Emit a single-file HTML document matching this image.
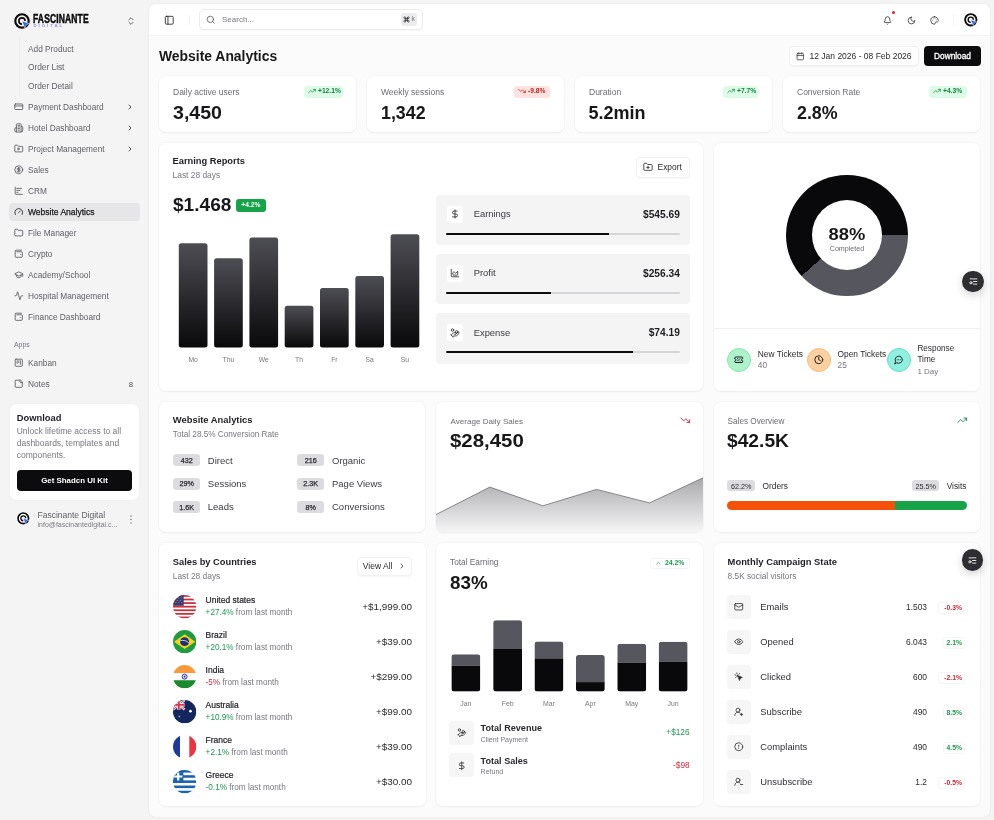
<!DOCTYPE html>
<html>
<head>
<meta charset="utf-8">
<title>Website Analytics</title>
<style>
*{box-sizing:border-box;margin:0;padding:0}
html,body{width:994px;height:820px;overflow:hidden}
body{background:#f4f4f5;font-family:"Liberation Sans",sans-serif;color:#1c1c1f;position:relative;font-size:8.5px;-webkit-font-smoothing:antialiased}
.abs,.abs *{position:absolute}
.t{position:absolute;white-space:nowrap;line-height:1;}
.m{color:#75757d}
.b{font-weight:bold}
svg{position:absolute;overflow:visible}
#panel{position:absolute;left:149px;top:4px;width:841px;height:813px;background:#fbfbfb;border-radius:7px;box-shadow:0 0 2px rgba(0,0,0,.10)}
#hdr{position:absolute;left:149px;top:4px;width:841px;height:32px;background:#fff;border-radius:7px 7px 0 0;border-bottom:1px solid #f3f3f5}
.card{position:absolute;background:#fff;border-radius:7px;box-shadow:0 0 0 1px rgba(0,0,0,.028),0 1px 2px rgba(0,0,0,.035)}
.si{position:absolute;left:28px;white-space:nowrap;line-height:1;font-size:8.3px;color:#5f5f66}
.ic{stroke:#55555c;fill:none;stroke-width:1.6;stroke-linecap:round;stroke-linejoin:round}
#sidebar,#main{will-change:transform}
</style>
</head>
<body>
<!-- SIDEBAR -->
<div id="sidebar">
<div style="position:absolute;left:9px;top:203px;width:131px;height:18px;background:#e6e6e9;border-radius:4px"></div>
<div style="position:absolute;left:18.500px;top:36px;width:1px;height:60px;background:#ececef"></div>
<div class="si" style="top:44.8px">Add Product</div>
<div class="si" style="top:63.3px">Order List</div>
<div class="si" style="top:82.3px">Order Detail</div>
<svg class="ic" style="left:13.700px;top:102.25px;stroke:#4d4d54;stroke-width:2" width="9.500" height="9.500" viewBox="0 0 24 24"><rect x="2" y="5" width="20" height="14" rx="2"/><path d="M2 10h20"/></svg>
<div class="si" style="top:102.8px;">Payment Dashboard</div>
<svg class="ic" style="left:126px;top:103.0px;stroke:#3f3f46;stroke-width:2.800" width="8" height="8" viewBox="0 0 24 24"><path d="m9 18 6-6-6-6"/></svg>
<svg class="ic" style="left:13.700px;top:123.25px;stroke:#4d4d54;stroke-width:2" width="9.500" height="9.500" viewBox="0 0 24 24"><path d="M6 22V4a2 2 0 0 1 2-2h8a2 2 0 0 1 2 2v18Z"/><path d="M6 12H4a2 2 0 0 0-2 2v6a2 2 0 0 0 2 2h2"/><path d="M18 9h2a2 2 0 0 1 2 2v9a2 2 0 0 1-2 2h-2"/><path d="M10 6h4M10 10h4M10 14h4M10 18h4"/></svg>
<div class="si" style="top:123.8px;">Hotel Dashboard</div>
<svg class="ic" style="left:126px;top:124.0px;stroke:#3f3f46;stroke-width:2.800" width="8" height="8" viewBox="0 0 24 24"><path d="m9 18 6-6-6-6"/></svg>
<svg class="ic" style="left:13.700px;top:144.25px;stroke:#4d4d54;stroke-width:2" width="9.500" height="9.500" viewBox="0 0 24 24"><path d="M20 20a2 2 0 0 0 2-2V8a2 2 0 0 0-2-2h-7.9a2 2 0 0 1-1.69-.9L9.6 3.9A2 2 0 0 0 7.93 3H4a2 2 0 0 0-2 2v13a2 2 0 0 0 2 2Z"/><path d="M10 10.5v5l4-2.5z"/></svg>
<div class="si" style="top:144.8px;">Project Management</div>
<svg class="ic" style="left:126px;top:145.0px;stroke:#3f3f46;stroke-width:2.800" width="8" height="8" viewBox="0 0 24 24"><path d="m9 18 6-6-6-6"/></svg>
<svg class="ic" style="left:13.700px;top:165.25px;stroke:#4d4d54;stroke-width:2" width="9.500" height="9.500" viewBox="0 0 24 24"><circle cx="12" cy="12" r="10"/><path d="M16 8h-6a2 2 0 1 0 0 4h4a2 2 0 1 1 0 4H8M12 18V6"/></svg>
<div class="si" style="top:165.8px;">Sales</div>
<svg class="ic" style="left:13.700px;top:186.25px;stroke:#4d4d54;stroke-width:2" width="9.500" height="9.500" viewBox="0 0 24 24"><path d="M3 3v16a2 2 0 0 0 2 2h16M7 11h8M7 16h3M7 6h12"/></svg>
<div class="si" style="top:186.8px;">CRM</div>
<svg class="ic" style="left:13.700px;top:207.25px;stroke:#1c1c1f;stroke-width:2" width="9.500" height="9.500" viewBox="0 0 24 24"><path d="m12 14 4-4M3.34 19a10 10 0 1 1 17.32 0"/></svg>
<div class="si" style="top:207.8px;color:#18181b;font-size:8.500px;-webkit-text-stroke:.25px #18181b">Website Analytics</div>
<svg class="ic" style="left:13.700px;top:228.25px;stroke:#4d4d54;stroke-width:2" width="9.500" height="9.500" viewBox="0 0 24 24"><path d="M20 20a2 2 0 0 0 2-2V8a2 2 0 0 0-2-2h-7.9a2 2 0 0 1-1.69-.9L9.6 3.9A2 2 0 0 0 7.93 3H4a2 2 0 0 0-2 2v13a2 2 0 0 0 2 2Z"/></svg>
<div class="si" style="top:228.8px;">File Manager</div>
<svg class="ic" style="left:13.700px;top:249.25px;stroke:#4d4d54;stroke-width:2" width="9.500" height="9.500" viewBox="0 0 24 24"><path d="M17 14h.01M7 7h12a2 2 0 0 1 2 2v10a2 2 0 0 1-2 2H5a2 2 0 0 1-2-2V5a2 2 0 0 1 2-2h14"/></svg>
<div class="si" style="top:249.8px;">Crypto</div>
<svg class="ic" style="left:13.700px;top:270.25px;stroke:#4d4d54;stroke-width:2" width="9.500" height="9.500" viewBox="0 0 24 24"><path d="M21.42 10.92a1 1 0 0 0-.02-1.84L12.83 5.18a2 2 0 0 0-1.66 0L2.6 9.08a1 1 0 0 0 0 1.83l8.57 3.91a2 2 0 0 0 1.66 0zM22 10v6M6 12.5V16a6 3 0 0 0 12 0v-3.500"/></svg>
<div class="si" style="top:270.8px;">Academy/School</div>
<svg class="ic" style="left:13.700px;top:291.25px;stroke:#4d4d54;stroke-width:2" width="9.500" height="9.500" viewBox="0 0 24 24"><path d="M22 12h-2.48a2 2 0 0 0-1.93 1.46l-2.350 8.36a.25.25 0 0 1-.48 0L9.240 2.180a.25.25 0 0 0-.48 0l-2.350 8.36A2 2 0 0 1 4.490 12H2"/></svg>
<div class="si" style="top:291.8px;">Hospital Management</div>
<svg class="ic" style="left:13.700px;top:312.25px;stroke:#4d4d54;stroke-width:2" width="9.500" height="9.500" viewBox="0 0 24 24"><path d="M17 14h.01M7 7h12a2 2 0 0 1 2 2v10a2 2 0 0 1-2 2H5a2 2 0 0 1-2-2V5a2 2 0 0 1 2-2h14"/></svg>
<div class="si" style="top:312.8px;">Finance Dashboard</div>
<svg class="ic" style="left:13.700px;top:358.25px;stroke:#4d4d54;stroke-width:2" width="9.500" height="9.500" viewBox="0 0 24 24"><rect x="3" y="3" width="18" height="18" rx="2"/><path d="M8 7v7M12 7v4M16 7v9"/></svg>
<div class="si" style="top:358.8px;">Kanban</div>
<svg class="ic" style="left:13.700px;top:379.25px;stroke:#4d4d54;stroke-width:2" width="9.500" height="9.500" viewBox="0 0 24 24"><path d="M16 3H5a2 2 0 0 0-2 2v14a2 2 0 0 0 2 2h14a2 2 0 0 0 2-2V8Z"/><path d="M15 3v4a2 2 0 0 0 2 2h4"/></svg>
<div class="si" style="top:379.8px;">Notes</div>
<div class="t m" style="left:14px;top:341.900px;font-size:6.900px">Apps</div>
<div class="t" style="left:128.800px;top:380.500px;font-size:7.800px;color:#4d4d54">8</div>
<svg style="left:14px;top:12.500px" width="16.500" height="16.500" viewBox="0 0 32 32"><circle cx="15.500" cy="15.500" r="13" fill="none" stroke="#0b0b0d" stroke-width="4.200"/><path d="M21.500 15.500a6 6 0 1 0-6 6" fill="none" stroke="#0b0b0d" stroke-width="3.200"/><path d="M15.500 15.500l14 5-6 2.500-2.500 6.500z" fill="#2b64f0" stroke="#fff" stroke-width=".9"/></svg>
<div class="t b" style="left:33px;top:12.500px;font-size:12.200px;color:#0b0b0d;transform:scaleX(.698);transform-origin:0 0;-webkit-text-stroke:.5px #0b0b0d;letter-spacing:.2px">FASCINANTE</div>
<div class="t b" style="left:33.500px;top:24.300px;font-size:4.300px;color:#8594f2;letter-spacing:1.950px">DIGITAL</div>
<svg class="ic" style="left:125.500px;top:15.500px;stroke:#4d4d54;stroke-width:2" width="10" height="10" viewBox="0 0 24 24"><path d="m7 15 5 5 5-5M7 9l5-5 5 5"/></svg>
<div style="position:absolute;left:10px;top:403.500px;width:129px;height:96px;background:#fff;border-radius:7px;box-shadow:0 0 2px rgba(0,0,0,.05)"></div>
<div class="t b" style="left:16.700px;top:412.900px;font-size:9.400px;color:#1f1f23">Download</div>
<div class="t m" style="left:16.700px;top:427.4px;font-size:8.500px;color:#77777f">Unlock lifetime access to all</div>
<div class="t m" style="left:16.700px;top:439.1px;font-size:8.500px;color:#77777f">dashboards, templates and</div>
<div class="t m" style="left:16.700px;top:450.8px;font-size:8.500px;color:#77777f">components.</div>
<div style="position:absolute;left:16.700px;top:470px;width:115.600px;height:20.600px;background:#0c0c0e;border-radius:4px"></div>
<div class="t b" style="left:16.700px;width:115.600px;text-align:center;top:476.900px;font-size:7.900px;color:#fff">Get Shadcn UI Kit</div>
<div style="position:absolute;left:16.200px;top:511.900px;width:13.600px;height:13.600px;border-radius:50%;background:#fff"></div>
<svg style="left:16.600px;top:512.200px" width="13" height="13" viewBox="0 0 32 32"><circle cx="15.500" cy="15.500" r="13" fill="none" stroke="#0b0b0d" stroke-width="4.200"/><path d="M21.500 15.500a6 6 0 1 0-6 6" fill="none" stroke="#0b0b0d" stroke-width="3.200"/><path d="M15.500 15.500l14 5-6 2.500-2.500 6.500z" fill="#2b64f0" stroke="#fff" stroke-width=".9"/></svg>
<div class="t" style="left:37.500px;top:510.500px;font-size:8.500px;color:#5f5f66">Fascinante Digital</div>
<div class="t m" style="left:37.500px;top:520.700px;font-size:7px;color:#7c7c84">info@fascinantedigital.c...</div>
<svg style="left:129.500px;top:514.500px" width="2" height="9" viewBox="0 0 2 9"><circle cx="1" cy="1" r=".7" fill="#666"/><circle cx="1" cy="4.500" r=".7" fill="#666"/><circle cx="1" cy="8" r=".7" fill="#666"/></svg>
<!--SBEND--></div>
<!-- MAIN -->
<div id="panel"></div>
<div id="hdr"></div>
<div id="main">
<svg class="ic" style="left:163.800px;top:14.700px;stroke:#2a2a2e;stroke-width:2" width="10.500" height="10.500" viewBox="0 0 24 24"><rect x="3" y="3" width="18" height="18" rx="2.500"/><path d="M9 3v18"/></svg>
<div style="position:absolute;left:189px;top:15px;width:1px;height:10px;background:#f1f1f3"></div>
<div style="position:absolute;left:199px;top:9.300px;width:223.500px;height:20.900px;background:#fff;border:1px solid #ebebee;border-radius:5px;box-shadow:0 1px 1px rgba(0,0,0,.03)"></div>
<svg class="ic" style="left:206px;top:15.300px;stroke:#55555c;stroke-width:2" width="9.500" height="9.500" viewBox="0 0 24 24"><circle cx="11" cy="11" r="8"/><path d="m21 21-4.300-4.300"/></svg>
<div class="t m" style="left:222px;top:16px;font-size:8px;color:#77777f">Search...</div>
<div style="position:absolute;left:401px;top:13.200px;width:16.300px;height:12.500px;background:#ececee;border-radius:3px"></div>
<svg class="ic" style="left:403.300px;top:16.200px;stroke:#3a3a40;stroke-width:3" width="7" height="7" viewBox="0 0 24 24"><path d="M15 6v12a3 3 0 1 0 3-3H6a3 3 0 1 0 3 3V6a3 3 0 1 0-3 3h12a3 3 0 1 0-3-3"/></svg><div class="t" style="left:411.600px;top:16.300px;font-size:6.800px;color:#77777f">k</div>
<svg class="ic" style="left:883px;top:15.500px;stroke:#2a2a2e;stroke-width:2" width="9" height="9" viewBox="0 0 24 24"><path d="M10.268 21a2 2 0 0 0 3.464 0M3.262 15.326A1 1 0 0 0 4 17h16a1 1 0 0 0 .74-1.673C19.410 13.956 18 12.499 18 8A6 6 0 0 0 6 8c0 4.499-1.411 5.956-2.738 7.326"/></svg>
<div style="position:absolute;left:892px;top:11px;width:3.400px;height:3.400px;border-radius:50%;background:#e11d2e"></div>
<svg class="ic" style="left:906.500px;top:15.500px;stroke:#2a2a2e;stroke-width:2" width="9" height="9" viewBox="0 0 24 24"><path d="M12 3a6 6 0 0 0 9 9 9 9 0 1 1-9-9Z"/></svg>
<svg class="ic" style="left:930px;top:15.500px;stroke:#2a2a2e;stroke-width:2" width="9" height="9" viewBox="0 0 24 24"><circle cx="13.500" cy="6.500" r="1.100" style="fill:#2a2a2e;stroke:none"/><circle cx="17.500" cy="10.500" r="1.100" style="fill:#2a2a2e;stroke:none"/><circle cx="8.500" cy="7.500" r="1.100" style="fill:#2a2a2e;stroke:none"/><circle cx="6.500" cy="12.500" r="1.100" style="fill:#2a2a2e;stroke:none"/><path d="M12 2a10 10 0 1 0 0 20c1.600 0 2.100-1.100 1.500-2.300-.8-1.700.3-3.300 2-3.300H18c2.400 0 4-1.900 4-4.400C22 6 17.500 2 12 2Z"/></svg>
<div style="position:absolute;left:953px;top:15px;width:1px;height:10px;background:#f3f3f5"></div>
<div style="position:absolute;left:963.500px;top:12px;width:16px;height:16px;border-radius:50%;background:#fbfbfc"></div>
<svg style="left:964.300px;top:13px" width="14" height="14" viewBox="0 0 32 32"><circle cx="15.500" cy="15.500" r="13" fill="none" stroke="#0b0b0d" stroke-width="4.200"/><path d="M21.500 15.500a6 6 0 1 0-6 6" fill="none" stroke="#0b0b0d" stroke-width="3.200"/><path d="M15.500 15.500l14 5-6 2.500-2.500 6.500z" fill="#2b64f0" stroke="#fff" stroke-width=".9"/></svg>
<div class="t b" style="left:159px;top:49.500px;font-size:13.900px;color:#18181b">Website Analytics</div>
<div style="position:absolute;left:789px;top:45.500px;width:129.500px;height:20.500px;background:#fff;border:1px solid #f0f0f2;border-radius:4px;box-shadow:0 1px 1px rgba(0,0,0,.03)"></div>
<svg class="ic" style="left:796px;top:51.500px;stroke:#2a2a2e;stroke-width:2" width="8.500" height="8.500" viewBox="0 0 24 24"><path d="M8 2v4M16 2v4M3 10h18"/><rect x="3" y="4" width="18" height="18" rx="2"/></svg>
<div class="t" style="left:809.500px;top:51.700px;font-size:8.500px;color:#2a2a2e">12 Jan 2026 - 08 Feb 2026</div>
<div style="position:absolute;left:924px;top:45.500px;width:57px;height:20.500px;background:#0c0c0e;border-radius:4px"></div>
<div class="t b" style="left:924px;width:57px;text-align:center;top:51.800px;font-size:8.300px;font-weight:normal;-webkit-text-stroke:.3px #fff;color:#fff">Download</div>
<div class="card" style="left:159px;top:76px;width:197px;height:56px"></div>
<div class="t m" style="left:173px;top:87.600px;font-size:8.500px;color:#6b6b73">Daily active users</div>
<div class="t b" style="left:172.600px;top:103.800px;font-size:18px;transform:scaleX(1.088);transform-origin:0 50%;color:#18181b">3,450</div>
<div style="position:absolute;left:304px;top:86px;width:38.5px;height:11.700px;background:#dcfce7;border-radius:3px"></div>
<svg class="ic" style="left:307.7px;top:87.400px;stroke:#15803d;stroke-width:2.200" width="8" height="8" viewBox="0 0 24 24"><path d="M16 7h6v6"/><path d="m22 7-8.500 8.500-5-5L2 17"/></svg>
<div class="t b" style="left:318px;top:88.400px;font-size:6.700px;color:#15803d">+12.1%</div>
<div class="card" style="left:367px;top:76px;width:197px;height:56px"></div>
<div class="t m" style="left:381px;top:87.600px;font-size:8.500px;color:#6b6b73">Weekly sessions</div>
<div class="t b" style="left:380.600px;top:103.800px;font-size:18px;transform:scaleX(.99);transform-origin:0 50%;color:#18181b">1,342</div>
<div style="position:absolute;left:514px;top:86px;width:36px;height:11.700px;background:#fee2e2;border-radius:3px"></div>
<svg class="ic" style="left:517.7px;top:87.400px;stroke:#b42318;stroke-width:2.200" width="8" height="8" viewBox="0 0 24 24"><path d="M16 17h6v-6"/><path d="m22 17-8.500-8.500-5 5L2 7"/></svg>
<div class="t b" style="left:528px;top:88.400px;font-size:6.700px;color:#b42318">-9.8%</div>
<div class="card" style="left:575px;top:76px;width:197px;height:56px"></div>
<div class="t m" style="left:589px;top:87.600px;font-size:8.500px;color:#6b6b73">Duration</div>
<div class="t b" style="left:588.600px;top:103.800px;font-size:18px;transform:scaleX(1);transform-origin:0 50%;color:#18181b">5.2min</div>
<div style="position:absolute;left:723px;top:86px;width:35px;height:11.700px;background:#dcfce7;border-radius:3px"></div>
<svg class="ic" style="left:726.7px;top:87.400px;stroke:#15803d;stroke-width:2.200" width="8" height="8" viewBox="0 0 24 24"><path d="M16 7h6v6"/><path d="m22 7-8.500 8.500-5-5L2 17"/></svg>
<div class="t b" style="left:737px;top:88.400px;font-size:6.700px;color:#15803d">+7.7%</div>
<div class="card" style="left:783px;top:76px;width:197px;height:56px"></div>
<div class="t m" style="left:797px;top:87.600px;font-size:8.500px;color:#6b6b73">Conversion Rate</div>
<div class="t b" style="left:796.600px;top:103.800px;font-size:18px;transform:scaleX(.99);transform-origin:0 50%;color:#18181b">2.8%</div>
<div style="position:absolute;left:929px;top:86px;width:37.5px;height:11.700px;background:#dcfce7;border-radius:3px"></div>
<svg class="ic" style="left:932.7px;top:87.400px;stroke:#15803d;stroke-width:2.200" width="8" height="8" viewBox="0 0 24 24"><path d="M16 7h6v6"/><path d="m22 7-8.500 8.500-5-5L2 17"/></svg>
<div class="t b" style="left:943px;top:88.400px;font-size:6.700px;color:#15803d">+4.3%</div>
<div class="card" style="left:159px;top:143px;width:544px;height:248px"></div>
<div class="t b" style="left:172.600px;top:157.300px;font-size:9.300px;color:#1f1f23">Earning Reports</div>
<div class="t m" style="left:172.600px;top:171.100px;font-size:8.400px;color:#77777f">Last 28 days</div>
<div class="t b" style="left:172.500px;top:196.300px;font-size:18px;transform:scaleX(1.06);transform-origin:0 50%;color:#18181b">$1.468</div>
<div style="position:absolute;left:235.800px;top:199.400px;width:30.100px;height:12.300px;background:#16a34a;border-radius:3px"></div>
<div class="t b" style="left:235.800px;width:30.100px;text-align:center;top:202.300px;font-size:6.700px;color:#fff">+4.2%</div>
<div class="t m" style="left:178.8px;width:28.700px;text-align:center;top:356.800px;font-size:6.800px;color:#77777f">Mo</div>
<div class="t m" style="left:214.1px;width:28.700px;text-align:center;top:356.800px;font-size:6.800px;color:#77777f">Thu</div>
<div class="t m" style="left:249.4px;width:28.700px;text-align:center;top:356.800px;font-size:6.800px;color:#77777f">We</div>
<div class="t m" style="left:284.7px;width:28.700px;text-align:center;top:356.800px;font-size:6.800px;color:#77777f">Th</div>
<div class="t m" style="left:320.0px;width:28.700px;text-align:center;top:356.800px;font-size:6.800px;color:#77777f">Fr</div>
<div class="t m" style="left:355.3px;width:28.700px;text-align:center;top:356.800px;font-size:6.800px;color:#77777f">Sa</div>
<div class="t m" style="left:390.6px;width:28.700px;text-align:center;top:356.800px;font-size:6.800px;color:#77777f">Su</div>
<div style="position:absolute;left:636px;top:157px;width:53.600px;height:20.700px;background:#fff;border:1px solid #f2f2f4;border-radius:4px;box-shadow:0 1px 1px rgba(0,0,0,.03)"></div>
<svg class="ic" style="left:642.800px;top:162.300px;stroke:#2a2a2e;stroke-width:2" width="10" height="10" viewBox="0 0 24 24"><path d="M12 10v6M9 13h6M20 20a2 2 0 0 0 2-2V8a2 2 0 0 0-2-2h-7.900a2 2 0 0 1-1.690-.9L9.600 3.900A2 2 0 0 0 7.930 3H4a2 2 0 0 0-2 2v13a2 2 0 0 0 2 2Z"/></svg>
<div class="t" style="left:657.600px;top:163.100px;font-size:8.400px;color:#2a2a2e">Export</div>
<div style="position:absolute;left:436.200px;top:195.1px;width:253.800px;height:50.300px;background:#f4f4f5;border-radius:4px"></div>
<div style="position:absolute;left:446.500px;top:206.1px;width:16.500px;height:16.500px;background:#fff;border-radius:3px"></div>
<svg class="ic" style="left:449.700px;top:209.3px;stroke:#2a2a2e;stroke-width:2" width="10" height="10" viewBox="0 0 24 24"><path d="M12 2v20M17 5H9.500a3.500 3.500 0 0 0 0 7h5a3.500 3.500 0 0 1 0 7H6"/></svg>
<div class="t" style="left:473.700px;top:209.2px;font-size:9.400px;color:#3a3a40">Earnings</div>
<div class="t b" style="right:314.20000000000005px;top:210.1px;font-size:10.200px;color:#1f1f23">$545.69</div>
<div style="position:absolute;left:445.900px;top:232.5px;width:233.800px;height:2.800px;background:#d6d6da;border-radius:2px"></div>
<div style="position:absolute;left:445.900px;top:232.5px;width:163.6px;height:2.800px;background:#0c0c0e;border-radius:2px 0 0 2px"></div>
<div style="position:absolute;left:436.200px;top:254px;width:253.800px;height:50.300px;background:#f4f4f5;border-radius:4px"></div>
<div style="position:absolute;left:446.500px;top:265px;width:16.500px;height:16.500px;background:#fff;border-radius:3px"></div>
<svg class="ic" style="left:449.700px;top:268.2px;stroke:#2a2a2e;stroke-width:2" width="10" height="10" viewBox="0 0 24 24"><path d="M3 3v16a2 2 0 0 0 2 2h16"/><path d="M7 11.200l2.500-2.500 4 4 5-5V16a1 1 0 0 1-1 1H8a1 1 0 0 1-1-1z"/></svg>
<div class="t" style="left:473.700px;top:268.1px;font-size:9.400px;color:#3a3a40">Profit</div>
<div class="t b" style="right:314.20000000000005px;top:269.0px;font-size:10.200px;color:#1f1f23">$256.34</div>
<div style="position:absolute;left:445.900px;top:291.7px;width:233.800px;height:2.800px;background:#d6d6da;border-radius:2px"></div>
<div style="position:absolute;left:445.900px;top:291.7px;width:105.1px;height:2.800px;background:#0c0c0e;border-radius:2px 0 0 2px"></div>
<div style="position:absolute;left:436.200px;top:313.4px;width:253.800px;height:50.300px;background:#f4f4f5;border-radius:4px"></div>
<div style="position:absolute;left:446.500px;top:324.4px;width:16.500px;height:16.500px;background:#fff;border-radius:3px"></div>
<svg class="ic" style="left:449.700px;top:327.6px;stroke:#2a2a2e;stroke-width:2" width="10" height="10" viewBox="0 0 24 24"><path d="M11 15h2a2 2 0 1 0 0-4h-3c-.6 0-1.100.2-1.400.6L3 17"/><path d="m7 21 1.600-1.400c.3-.4.8-.6 1.400-.6h4c1.100 0 2.100-.4 2.800-1.200l4.600-4.400a2 2 0 0 0-2.750-2.910l-4.200 3.900"/><path d="m2 16 6 6"/><circle cx="16" cy="9" r="2.900"/><circle cx="6" cy="5" r="3"/></svg>
<div class="t" style="left:473.700px;top:327.5px;font-size:9.400px;color:#3a3a40">Expense</div>
<div class="t b" style="right:314.20000000000005px;top:328.4px;font-size:10.200px;color:#1f1f23">$74.19</div>
<div style="position:absolute;left:445.900px;top:350.6px;width:233.800px;height:2.800px;background:#d6d6da;border-radius:2px"></div>
<div style="position:absolute;left:445.900px;top:350.6px;width:186.8px;height:2.800px;background:#0c0c0e;border-radius:2px 0 0 2px"></div>
<div class="card" style="left:713.500px;top:143px;width:266.500px;height:248px"></div>
<div style="position:absolute;left:786.3px;top:174.5px;width:121.4px;height:121.4px;border-radius:50%;background:conic-gradient(#09090b 0deg 90deg,#56565e 90deg 228.300deg,#09090b 228.300deg 360deg)"></div>
<div style="position:absolute;left:811.8px;top:200.0px;width:70.4px;height:70.4px;border-radius:50%;background:#fff"></div>
<div class="t b" style="left:807px;width:80px;text-align:center;top:226.300px;font-size:17px;transform:scaleX(1.08);color:#18181b">88%</div>
<div class="t m" style="left:807px;width:80px;text-align:center;top:246.300px;font-size:7.150px;color:#6b6b73">Completed</div>
<div style="position:absolute;left:713.500px;top:328px;width:266.500px;height:1px;background:#f0f0f2"></div>
<div style="position:absolute;left:726.8px;top:347.500px;width:24px;height:24px;border-radius:50%;background:#aef2c9;border:1px solid #86e6ae"></div>
<svg class="ic" style="left:734.05px;top:354.750px;stroke:#1f1f23;stroke-width:2.500" width="9.500" height="9.500" viewBox="0 0 24 24"><path d="M2 9a3 3 0 0 1 0 6v2a2 2 0 0 0 2 2h16a2 2 0 0 0 2-2v-2a3 3 0 0 1 0-6V7a2 2 0 0 0-2-2H4a2 2 0 0 0-2 2Z"/><path d="M9 9h.010M15 15h.010M15 9 9 15"/></svg>
<div style="position:absolute;left:807.2px;top:347.500px;width:24px;height:24px;border-radius:50%;background:#fdd0a0;border:1px solid #f9ba7b"></div>
<svg class="ic" style="left:814.45px;top:354.750px;stroke:#1f1f23;stroke-width:2.500" width="9.500" height="9.500" viewBox="0 0 24 24"><circle cx="12" cy="12" r="10"/><path d="M12 6v6l4 2"/></svg>
<div style="position:absolute;left:886.7px;top:347.500px;width:24px;height:24px;border-radius:50%;background:#8ff0df;border:1px solid #62e0cc"></div>
<svg class="ic" style="left:893.95px;top:354.750px;stroke:#1f1f23;stroke-width:2.500" width="9.500" height="9.500" viewBox="0 0 24 24"><path d="M7.900 20A9 9 0 1 0 4 16.100L2 22Z"/><path d="M8 12h.010M12 12h.010M16 12h.010"/></svg>
<div class="t" style="left:757.800px;top:349.500px;font-size:8.400px;color:#2a2a2e">New Tickets</div>
<div class="t m" style="left:757.800px;top:361.300px;font-size:8.400px;color:#77777f">40</div>
<div class="t" style="left:837.600px;top:349.500px;font-size:8.350px;color:#2a2a2e">Open Tickets</div>
<div class="t m" style="left:837.600px;top:361.300px;font-size:8.400px;color:#77777f">25</div>
<div class="t" style="left:917.400px;top:344.500px;font-size:8.200px;color:#2a2a2e">Response</div>
<div class="t" style="left:917.400px;top:355.900px;font-size:8.200px;color:#2a2a2e">Time</div>
<div class="t m" style="left:917.400px;top:367.600px;font-size:8px;color:#77777f">1 Day</div>
<div class="card" style="left:159px;top:401.500px;width:266px;height:130.500px"></div>
<div class="t b" style="left:172.800px;top:415.100px;font-size:9.400px;color:#1f1f23">Website Analytics</div>
<div class="t m" style="left:172.800px;top:430.500px;font-size:8.200px;color:#77777f">Total 28.5% Conversion Rate</div>
<div style="position:absolute;left:173px;top:454.4px;width:27.300px;height:12.100px;background:#dcdce0;border-radius:3px"></div>
<div class="t" style="left:173px;width:27.300px;text-align:center;top:457.1px;font-size:7.200px;-webkit-text-stroke:.25px #2a2a2e;color:#2a2a2e">432</div>
<div class="t" style="left:207.8px;top:455.6px;font-size:9.500px;color:#3a3a40">Direct</div>
<div style="position:absolute;left:297px;top:454.4px;width:27.300px;height:12.100px;background:#dcdce0;border-radius:3px"></div>
<div class="t" style="left:297px;width:27.300px;text-align:center;top:457.1px;font-size:7.200px;-webkit-text-stroke:.25px #2a2a2e;color:#2a2a2e">216</div>
<div class="t" style="left:332px;top:455.6px;font-size:9.500px;color:#3a3a40">Organic</div>
<div style="position:absolute;left:173px;top:477.7px;width:27.300px;height:12.100px;background:#dcdce0;border-radius:3px"></div>
<div class="t" style="left:173px;width:27.300px;text-align:center;top:480.4px;font-size:7.200px;-webkit-text-stroke:.25px #2a2a2e;color:#2a2a2e">29%</div>
<div class="t" style="left:207.8px;top:478.9px;font-size:9.500px;color:#3a3a40">Sessions</div>
<div style="position:absolute;left:297px;top:477.7px;width:27.300px;height:12.100px;background:#dcdce0;border-radius:3px"></div>
<div class="t" style="left:297px;width:27.300px;text-align:center;top:480.4px;font-size:7.200px;-webkit-text-stroke:.25px #2a2a2e;color:#2a2a2e">2.3K</div>
<div class="t" style="left:332px;top:478.9px;font-size:9.500px;color:#3a3a40">Page Views</div>
<div style="position:absolute;left:173px;top:501.0px;width:27.300px;height:12.100px;background:#dcdce0;border-radius:3px"></div>
<div class="t" style="left:173px;width:27.300px;text-align:center;top:503.7px;font-size:7.200px;-webkit-text-stroke:.25px #2a2a2e;color:#2a2a2e">1.6K</div>
<div class="t" style="left:207.8px;top:502.2px;font-size:9.500px;color:#3a3a40">Leads</div>
<div style="position:absolute;left:297px;top:501.0px;width:27.300px;height:12.100px;background:#dcdce0;border-radius:3px"></div>
<div class="t" style="left:297px;width:27.300px;text-align:center;top:503.7px;font-size:7.200px;-webkit-text-stroke:.25px #2a2a2e;color:#2a2a2e">8%</div>
<div class="t" style="left:332px;top:502.2px;font-size:9.500px;color:#3a3a40">Conversions</div>
<div class="card" style="left:436px;top:401.500px;width:267px;height:130.500px;overflow:hidden"><svg style="left:0;top:0" width="267" height="130.500" viewBox="436 401.500 267 130.500"><defs><linearGradient id="ag" x1="0" y1="0" x2="0" y2="1"><stop offset="0" stop-color="#a9a9ad"/><stop offset="1" stop-color="#f6f6f7"/></linearGradient></defs><path d="M436 514.100L489.800 486.600L542.900 505.300L596.500 488.900L649.600 502.400L703 477.300V532H436Z" fill="url(#ag)"/><path d="M436 514.100L489.800 486.600L542.900 505.300L596.500 488.900L649.600 502.400L703 477.300" fill="none" stroke="#6e6e74" stroke-width=".8"/></svg></div>
<div class="t m" style="left:450.400px;top:417.700px;font-size:8.100px;color:#6b6b73">Average Daily Sales</div>
<div class="t b" style="left:450.200px;top:432.200px;font-size:18px;transform:scaleX(1.134);transform-origin:0 50%;color:#18181b">$28,450</div>
<svg class="ic" style="left:679.500px;top:414.800px;stroke:#c0262d;stroke-width:2" width="10.500" height="10.500" viewBox="0 0 24 24"><path d="M16 17h6v-6"/><path d="m22 17-8.500-8.500-5 5L2 7"/></svg>
<div class="card" style="left:714px;top:401.500px;width:266px;height:130.500px"></div>
<div class="t m" style="left:727.600px;top:417.900px;font-size:8.200px;color:#6b6b73">Sales Overview</div>
<div class="t b" style="left:727.400px;top:432.200px;font-size:18px;transform:scaleX(1.067);transform-origin:0 50%;color:#18181b">$42.5K</div>
<svg class="ic" style="left:957.200px;top:414.800px;stroke:#15803d;stroke-width:2" width="10.500" height="10.500" viewBox="0 0 24 24"><path d="M16 7h6v6"/><path d="m22 7-8.500 8.500-5-5L2 17"/></svg>
<div style="position:absolute;left:727.300px;top:479.600px;width:27.700px;height:11.700px;background:#dcdce0;border-radius:3px"></div>
<div class="t" style="left:727.300px;width:27.700px;text-align:center;top:482.600px;font-size:7.200px;color:#2a2a2e">62.2%</div>
<div class="t" style="left:762.600px;top:482px;font-size:8.300px;color:#2a2a2e">Orders</div>
<div style="position:absolute;left:912px;top:479.600px;width:27.400px;height:11.700px;background:#dcdce0;border-radius:3px"></div>
<div class="t" style="left:912px;width:27.400px;text-align:center;top:482.600px;font-size:7.200px;color:#2a2a2e">25.5%</div>
<div class="t" style="left:946.700px;top:481.800px;font-size:8.300px;color:#2a2a2e">Visits</div>
<div style="position:absolute;left:727.300px;top:500.600px;width:239.800px;height:9.900px;border-radius:5px;background:linear-gradient(90deg,#f4510b 0 167.800px,#16a34a 167.800px)"></div>
<div class="card" style="left:159px;top:542.600px;width:266.500px;height:263.600px"></div>
<div class="t b" style="left:172.800px;top:557.800px;font-size:9.300px;color:#1f1f23">Sales by Countries</div>
<div class="t m" style="left:172.800px;top:571.500px;font-size:8.400px;color:#77777f">Last 28 days</div>
<div style="position:absolute;left:357.200px;top:556.600px;width:55.300px;height:19.500px;background:#fff;border:1px solid #f2f2f4;border-radius:4px;box-shadow:0 1px 1px rgba(0,0,0,.03)"></div>
<div class="t" style="left:362.800px;top:562.100px;font-size:8.500px;color:#2a2a2e">View All</div>
<svg class="ic" style="left:397.500px;top:562.300px;stroke:#2a2a2e;stroke-width:2.200" width="8" height="8" viewBox="0 0 24 24"><path d="m9 18 6-6-6-6"/></svg>
<svg style="left:172.75px;top:595.05px" width="23.300" height="23.300" viewBox="0 0 24 24"><defs><clipPath id="cus"><circle cx="12" cy="12" r="12"/></clipPath></defs><g clip-path="url(#cus)"><rect width="24" height="24" fill="#fff"/><rect y="0.0" width="24" height="1.850" fill="#c8313e"/><rect y="3.7" width="24" height="1.850" fill="#c8313e"/><rect y="7.4" width="24" height="1.850" fill="#c8313e"/><rect y="11.1" width="24" height="1.850" fill="#c8313e"/><rect y="14.8" width="24" height="1.850" fill="#c8313e"/><rect y="18.5" width="24" height="1.850" fill="#c8313e"/><rect y="22.2" width="24" height="1.850" fill="#c8313e"/><rect width="11" height="11.100" fill="#3c3b6e"/><g fill="#fff" opacity=".8"><circle cx="3" cy="3" r=".5"/><circle cx="6" cy="3" r=".5"/><circle cx="9" cy="3" r=".5"/><circle cx="4.500" cy="5.500" r=".5"/><circle cx="7.500" cy="5.500" r=".5"/><circle cx="3" cy="8" r=".5"/><circle cx="6" cy="8" r=".5"/><circle cx="9" cy="8" r=".5"/></g></g></svg>
<div class="t" style="left:205.600px;top:596.1px;font-size:8.500px;color:#1f1f23;-webkit-text-stroke:.2px #1f1f23">United states</div>
<div class="t m" style="left:205.600px;top:609.0px;font-size:8.200px;color:#77777f"><span style="color:#1a9a50">+27.4%</span> from last month</div>
<div class="t" style="right:582px;top:601.7px;font-size:9.900px;color:#2a2a2e">+$1,999.00</div>
<svg style="left:172.75px;top:630.00px" width="23.300" height="23.300" viewBox="0 0 24 24"><defs><clipPath id="cbr"><circle cx="12" cy="12" r="12"/></clipPath></defs><g clip-path="url(#cbr)"><rect width="24" height="24" fill="#1f9b43"/><path d="M12 4.500L23 12 12 19.500 1 12Z" fill="#f6d21c"/><circle cx="12" cy="12" r="4.600" fill="#1b2f7a"/><path d="M7.600 11c3-.8 6.500 0 8.800 2.300" stroke="#dfe6f5" stroke-width=".9" fill="none"/></g></svg>
<div class="t" style="left:205.600px;top:631.05px;font-size:8.500px;color:#1f1f23;-webkit-text-stroke:.2px #1f1f23">Brazil</div>
<div class="t m" style="left:205.600px;top:643.95px;font-size:8.200px;color:#77777f"><span style="color:#1a9a50">+20.1%</span> from last month</div>
<div class="t" style="right:582px;top:636.65px;font-size:9.900px;color:#2a2a2e">+$39.00</div>
<svg style="left:172.75px;top:665.00px" width="23.300" height="23.300" viewBox="0 0 24 24"><defs><clipPath id="cin"><circle cx="12" cy="12" r="12"/></clipPath></defs><g clip-path="url(#cin)"><rect width="24" height="24" fill="#fff"/><rect width="24" height="8.300" fill="#f89a3c"/><rect y="15.700" width="24" height="8.300" fill="#1b8a2f"/><circle cx="12" cy="12" r="2.600" fill="#cfd2f0" stroke="#2b2f9c" stroke-width=".9"/><circle cx="12" cy="12" r=".8" fill="#2b2f9c"/></g></svg>
<div class="t" style="left:205.600px;top:666.05px;font-size:8.500px;color:#1f1f23;-webkit-text-stroke:.2px #1f1f23">India</div>
<div class="t m" style="left:205.600px;top:678.95px;font-size:8.200px;color:#77777f"><span style="color:#cf2c3c">-5%</span> from last month</div>
<div class="t" style="right:582px;top:671.65px;font-size:9.900px;color:#2a2a2e">+$299.00</div>
<svg style="left:172.75px;top:700.00px" width="23.300" height="23.300" viewBox="0 0 24 24"><defs><clipPath id="cau"><circle cx="12" cy="12" r="12"/></clipPath></defs><g clip-path="url(#cau)"><rect width="24" height="24" fill="#14265e"/><g><rect width="12" height="10" fill="#14265e"/><path d="M0 0l12 10M12 0L0 10" stroke="#fff" stroke-width="2.400"/><path d="M0 0l12 10M12 0L0 10" stroke="#e0334c" stroke-width="1"/><path d="M6 0v10M0 5h12" stroke="#fff" stroke-width="3.400"/><path d="M6 0v10M0 5h12" stroke="#e0334c" stroke-width="2"/></g><circle cx="18" cy="11.500" r="1.400" fill="#fff"/><circle cx="6.500" cy="17" r="1" fill="#fff" opacity=".5"/></g></svg>
<div class="t" style="left:205.600px;top:701.05px;font-size:8.500px;color:#1f1f23;-webkit-text-stroke:.2px #1f1f23">Australia</div>
<div class="t m" style="left:205.600px;top:713.95px;font-size:8.200px;color:#77777f"><span style="color:#1a9a50">+10.9%</span> from last month</div>
<div class="t" style="right:582px;top:706.65px;font-size:9.900px;color:#2a2a2e">+$99.00</div>
<svg style="left:172.75px;top:735.00px" width="23.300" height="23.300" viewBox="0 0 24 24"><defs><clipPath id="cfr"><circle cx="12" cy="12" r="12"/></clipPath></defs><g clip-path="url(#cfr)"><rect width="24" height="24" fill="#fff"/><rect width="7.200" height="24" fill="#1f3a9c"/><rect x="16.800" width="7.200" height="24" fill="#ee3340"/></g></svg>
<div class="t" style="left:205.600px;top:736.05px;font-size:8.500px;color:#1f1f23;-webkit-text-stroke:.2px #1f1f23">France</div>
<div class="t m" style="left:205.600px;top:748.95px;font-size:8.200px;color:#77777f"><span style="color:#1a9a50">+2.1%</span> from last month</div>
<div class="t" style="right:582px;top:741.65px;font-size:9.900px;color:#2a2a2e">+$39.00</div>
<svg style="left:172.75px;top:770.00px" width="23.300" height="23.300" viewBox="0 0 24 24"><defs><clipPath id="cgr"><circle cx="12" cy="12" r="12"/></clipPath></defs><g clip-path="url(#cgr)"><rect width="24" height="24" fill="#fff"/><rect y="0.00" width="24" height="2.670" fill="#1c63ad"/><rect y="5.34" width="24" height="2.670" fill="#1c63ad"/><rect y="10.68" width="24" height="2.670" fill="#1c63ad"/><rect y="16.02" width="24" height="2.670" fill="#1c63ad"/><rect y="21.36" width="24" height="2.670" fill="#1c63ad"/><rect width="10.700" height="13.300" fill="#1c63ad"/><path d="M5.350 2.500v8.300M1 6.650h8.700" stroke="#fff" stroke-width="2.200"/></g></svg>
<div class="t" style="left:205.600px;top:771.05px;font-size:8.500px;color:#1f1f23;-webkit-text-stroke:.2px #1f1f23">Greece</div>
<div class="t m" style="left:205.600px;top:783.95px;font-size:8.200px;color:#77777f"><span style="color:#1a9a50">-0.1%</span> from last month</div>
<div class="t" style="right:582px;top:776.65px;font-size:9.900px;color:#2a2a2e">+$30.00</div>
<div class="card" style="left:436.300px;top:542.600px;width:266.800px;height:263.600px"></div>
<div class="t m" style="left:450px;top:558.400px;font-size:8.300px;color:#6b6b73">Total Earning</div>
<div class="t b" style="left:449.800px;top:573.800px;font-size:18px;transform:scaleX(1.044);transform-origin:0 50%;color:#18181b">83%</div>
<div style="position:absolute;left:650.300px;top:557.600px;width:39.700px;height:11.600px;background:#fff;border:1px solid #f3f3f5;border-radius:3px"></div>
<svg class="ic" style="left:655px;top:560.400px;stroke:#15803d;stroke-width:2.400" width="6.500" height="6.500" viewBox="0 0 24 24"><path d="m18 15-6-6-6 6"/></svg>
<div class="t b" style="left:664.900px;top:560px;font-size:6.900px;color:#1a9a50">24.2%</div>
<div class="t m" style="left:451.4px;width:28.900px;text-align:center;top:701.300px;font-size:6.900px;color:#77777f">Jan</div>
<div class="t m" style="left:493.2px;width:28.900px;text-align:center;top:701.300px;font-size:6.900px;color:#77777f">Feb</div>
<div class="t m" style="left:534.5px;width:28.900px;text-align:center;top:701.300px;font-size:6.900px;color:#77777f">Mar</div>
<div class="t m" style="left:575.9px;width:28.900px;text-align:center;top:701.300px;font-size:6.900px;color:#77777f">Apr</div>
<div class="t m" style="left:617.3px;width:28.900px;text-align:center;top:701.300px;font-size:6.900px;color:#77777f">May</div>
<div class="t m" style="left:658.7px;width:28.900px;text-align:center;top:701.300px;font-size:6.900px;color:#77777f">Jun</div>
<div style="position:absolute;left:449.300px;top:721px;width:24.400px;height:24px;background:#f6f6f7;border-radius:4px"></div>
<svg class="ic" style="left:456.700px;top:728.2px;stroke:#2a2a2e;stroke-width:2" width="9.500" height="9.500" viewBox="0 0 24 24"><path d="M11 15h2a2 2 0 1 0 0-4h-3c-.6 0-1.100.2-1.400.6L3 17"/><path d="m7 21 1.600-1.400c.3-.4.8-.6 1.400-.6h4c1.100 0 2.100-.4 2.800-1.200l4.600-4.400a2 2 0 0 0-2.750-2.910l-4.200 3.900"/><path d="m2 16 6 6"/><circle cx="16" cy="9" r="2.900"/><circle cx="6" cy="5" r="3"/></svg>
<div class="t b" style="left:480.600px;top:724.2px;font-size:9.100px;color:#2a2a2e">Total Revenue</div>
<div class="t m" style="left:480.600px;top:736.0px;font-size:7px;color:#77777f">Client Payment</div>
<div class="t" style="right:304.4px;top:728.4px;font-size:8.300px;color:#1a9a50">+$126</div>
<div style="position:absolute;left:449.300px;top:753.4px;width:24.400px;height:24px;background:#f6f6f7;border-radius:4px"></div>
<svg class="ic" style="left:456.700px;top:760.6px;stroke:#2a2a2e;stroke-width:2" width="9.500" height="9.500" viewBox="0 0 24 24"><path d="M12 2v20M17 5H9.500a3.500 3.500 0 0 0 0 7h5a3.500 3.500 0 0 1 0 7H6"/></svg>
<div class="t b" style="left:480.600px;top:756.6px;font-size:9.100px;color:#2a2a2e">Total Sales</div>
<div class="t m" style="left:480.600px;top:768.4px;font-size:7px;color:#77777f">Refund</div>
<div class="t" style="right:304.4px;top:760.8px;font-size:8.300px;color:#cf2c3c">-$98</div>
<div class="card" style="left:713.700px;top:542.600px;width:266.300px;height:263.600px"></div>
<div class="t b" style="left:727.600px;top:557.400px;font-size:9.400px;color:#1f1f23">Monthly Campaign State</div>
<div class="t m" style="left:727.600px;top:571.500px;font-size:8.300px;color:#77777f">8.5K social visitors</div>
<div style="position:absolute;left:727px;top:594.7px;width:24px;height:24px;background:#f6f6f7;border-radius:4px"></div>
<svg class="ic" style="left:734.300px;top:602.0px;stroke:#2a2a2e;stroke-width:2" width="9.500" height="9.500" viewBox="0 0 24 24"><path d="m22 7-8.991 5.727a2 2 0 0 1-2.009 0L2 7"/><rect x="2" y="4" width="20" height="16" rx="2"/></svg>
<div class="t" style="left:760.300px;top:601.8px;font-size:9.400px;color:#2f2f35">Emails</div>
<div class="t" style="right:67px;top:603.1px;font-size:8.400px;color:#2a2a2e">1.503</div>
<div style="position:absolute;left:937.7px;top:602.1px;width:27.8px;height:11.800px;background:#fff;border:1px solid #f5f5f7;border-radius:3px"></div>
<div class="t b" style="right:32px;top:605.0px;font-size:6.800px;color:#c5283a">-0.3%</div>
<div style="position:absolute;left:727px;top:629.65px;width:24px;height:24px;background:#f6f6f7;border-radius:4px"></div>
<svg class="ic" style="left:734.300px;top:636.95px;stroke:#2a2a2e;stroke-width:2" width="9.500" height="9.500" viewBox="0 0 24 24"><path d="M2.062 12.348a1 1 0 0 1 0-.696 10.750 10.750 0 0 1 19.876 0 1 1 0 0 1 0 .696 10.750 10.750 0 0 1-19.876 0"/><circle cx="12" cy="12" r="3"/></svg>
<div class="t" style="left:760.300px;top:636.75px;font-size:9.400px;color:#2f2f35">Opened</div>
<div class="t" style="right:67px;top:638.05px;font-size:8.400px;color:#2a2a2e">6.043</div>
<div style="position:absolute;left:943.2px;top:637.05px;width:22.3px;height:11.800px;background:#fff;border:1px solid #f5f5f7;border-radius:3px"></div>
<div class="t b" style="right:32px;top:639.95px;font-size:6.800px;color:#1a9a50">2.1%</div>
<div style="position:absolute;left:727px;top:664.65px;width:24px;height:24px;background:#f6f6f7;border-radius:4px"></div>
<svg class="ic" style="left:734.300px;top:671.95px;stroke:#2a2a2e;stroke-width:2" width="9.500" height="9.500" viewBox="0 0 24 24"><path d="M14 4.100 12 6M5.100 8l-2.900-.8M6 12l-1.900 2M7.200 2.200 8 5.100"/><path d="M9 9l12 4.800-5 1.600-1.600 5z" style="fill:#2a2a2e"/></svg>
<div class="t" style="left:760.300px;top:671.75px;font-size:9.400px;color:#2f2f35">Clicked</div>
<div class="t" style="right:67px;top:673.05px;font-size:8.400px;color:#2a2a2e">600</div>
<div style="position:absolute;left:937.7px;top:672.05px;width:27.8px;height:11.800px;background:#fff;border:1px solid #f5f5f7;border-radius:3px"></div>
<div class="t b" style="right:32px;top:674.95px;font-size:6.800px;color:#c5283a">-2.1%</div>
<div style="position:absolute;left:727px;top:699.65px;width:24px;height:24px;background:#f6f6f7;border-radius:4px"></div>
<svg class="ic" style="left:734.300px;top:706.95px;stroke:#2a2a2e;stroke-width:2" width="9.500" height="9.500" viewBox="0 0 24 24"><path d="M2 21a8 8 0 0 1 13.292-6"/><circle cx="10" cy="8" r="5"/><path d="M19 16v6M22 19h-6"/></svg>
<div class="t" style="left:760.300px;top:706.75px;font-size:9.400px;color:#2f2f35">Subscribe</div>
<div class="t" style="right:67px;top:708.05px;font-size:8.400px;color:#2a2a2e">490</div>
<div style="position:absolute;left:943.2px;top:707.05px;width:22.3px;height:11.800px;background:#fff;border:1px solid #f5f5f7;border-radius:3px"></div>
<div class="t b" style="right:32px;top:709.95px;font-size:6.800px;color:#1a9a50">8.5%</div>
<div style="position:absolute;left:727px;top:734.65px;width:24px;height:24px;background:#f6f6f7;border-radius:4px"></div>
<svg class="ic" style="left:734.300px;top:741.95px;stroke:#2a2a2e;stroke-width:2" width="9.500" height="9.500" viewBox="0 0 24 24"><circle cx="12" cy="12" r="10"/><path d="M12 8v4M12 16h.010"/></svg>
<div class="t" style="left:760.300px;top:741.75px;font-size:9.400px;color:#2f2f35">Complaints</div>
<div class="t" style="right:67px;top:743.05px;font-size:8.400px;color:#2a2a2e">490</div>
<div style="position:absolute;left:943.2px;top:742.05px;width:22.3px;height:11.800px;background:#fff;border:1px solid #f5f5f7;border-radius:3px"></div>
<div class="t b" style="right:32px;top:744.95px;font-size:6.800px;color:#1a9a50">4.5%</div>
<div style="position:absolute;left:727px;top:769.65px;width:24px;height:24px;background:#f6f6f7;border-radius:4px"></div>
<svg class="ic" style="left:734.300px;top:776.95px;stroke:#2a2a2e;stroke-width:2" width="9.500" height="9.500" viewBox="0 0 24 24"><path d="M2 21a8 8 0 0 1 13.292-6"/><circle cx="10" cy="8" r="5"/><path d="M22 19h-6"/></svg>
<div class="t" style="left:760.300px;top:776.75px;font-size:9.400px;color:#2f2f35">Unsubscribe</div>
<div class="t" style="right:67px;top:778.05px;font-size:8.400px;color:#2a2a2e">1.2</div>
<div style="position:absolute;left:937.7px;top:777.05px;width:27.8px;height:11.800px;background:#fff;border:1px solid #f5f5f7;border-radius:3px"></div>
<div class="t b" style="right:32px;top:779.95px;font-size:6.800px;color:#c5283a">-0.5%</div>
<div style="position:absolute;left:962.3px;top:271.0px;width:21.400px;height:21.400px;border-radius:50%;background:#2e2e32;box-shadow:0 3px 8px rgba(0,0,0,.18)"></div>
<svg class="ic" style="left:968.5px;top:277.2px;stroke:#fff;stroke-width:2.300" width="9" height="9" viewBox="0 0 24 24"><path d="M3 5h18M12 12h9M12 19h9"/><circle cx="5" cy="15.500" r="3"/></svg>
<div style="position:absolute;left:962.1px;top:549.3px;width:21.400px;height:21.400px;border-radius:50%;background:#2e2e32;box-shadow:0 3px 8px rgba(0,0,0,.18)"></div>
<svg class="ic" style="left:968.3px;top:555.5px;stroke:#fff;stroke-width:2.300" width="9" height="9" viewBox="0 0 24 24"><path d="M3 5h18M12 12h9M12 19h9"/><circle cx="5" cy="15.500" r="3"/></svg>
<svg style="left:0;top:0" width="994" height="820" viewBox="0 0 994 820"><defs><clipPath id="sb0"><rect x="451.4" y="654.3" width="28.900" height="37.3" rx="3"/></clipPath><clipPath id="sb1"><rect x="493.2" y="620.2" width="28.900" height="71.4" rx="3"/></clipPath><clipPath id="sb2"><rect x="534.5" y="641.4" width="28.900" height="50.2" rx="3"/></clipPath><clipPath id="sb3"><rect x="575.9" y="655" width="28.900" height="36.6" rx="3"/></clipPath><clipPath id="sb4"><rect x="617.3" y="643.8" width="28.900" height="47.8" rx="3"/></clipPath><clipPath id="sb5"><rect x="658.7" y="641.7" width="28.900" height="49.9" rx="3"/></clipPath></defs><g clip-path="url(#sb0)"><rect x="451.4" y="654.3" width="28.900" height="11.4" fill="#56565e"/><rect x="451.4" y="665.7" width="28.900" height="25.9" fill="#09090b"/></g><g clip-path="url(#sb1)"><rect x="493.2" y="620.2" width="28.900" height="28.8" fill="#56565e"/><rect x="493.2" y="649" width="28.900" height="42.6" fill="#09090b"/></g><g clip-path="url(#sb2)"><rect x="534.5" y="641.4" width="28.900" height="17.0" fill="#56565e"/><rect x="534.5" y="658.4" width="28.900" height="33.2" fill="#09090b"/></g><g clip-path="url(#sb3)"><rect x="575.9" y="655" width="28.900" height="27.1" fill="#56565e"/><rect x="575.9" y="682.1" width="28.900" height="9.5" fill="#09090b"/></g><g clip-path="url(#sb4)"><rect x="617.3" y="643.8" width="28.900" height="18.8" fill="#56565e"/><rect x="617.3" y="662.6" width="28.900" height="29.0" fill="#09090b"/></g><g clip-path="url(#sb5)"><rect x="658.7" y="641.7" width="28.900" height="20.2" fill="#56565e"/><rect x="658.7" y="661.9" width="28.900" height="29.7" fill="#09090b"/></g></svg>
<svg style="left:0;top:0" width="994" height="820" viewBox="0 0 994 820"><defs><linearGradient id="eb" x1="0" y1="0" x2="0" y2="1"><stop offset="0" stop-color="#4d4d54"/><stop offset="1" stop-color="#09090b"/></linearGradient></defs><rect x="178.8" y="243.3" width="28.700" height="104.2" rx="2.500" fill="url(#eb)"/><rect x="214.1" y="258.2" width="28.700" height="89.3" rx="2.500" fill="url(#eb)"/><rect x="249.4" y="237.5" width="28.700" height="110.0" rx="2.500" fill="url(#eb)"/><rect x="284.7" y="305.7" width="28.700" height="41.8" rx="2.500" fill="url(#eb)"/><rect x="320.0" y="287.9" width="28.700" height="59.6" rx="2.500" fill="url(#eb)"/><rect x="355.3" y="276" width="28.700" height="71.5" rx="2.500" fill="url(#eb)"/><rect x="390.6" y="234.3" width="28.700" height="113.2" rx="2.500" fill="url(#eb)"/></svg>
<!--MAINEND--></div>
</body>
</html>
